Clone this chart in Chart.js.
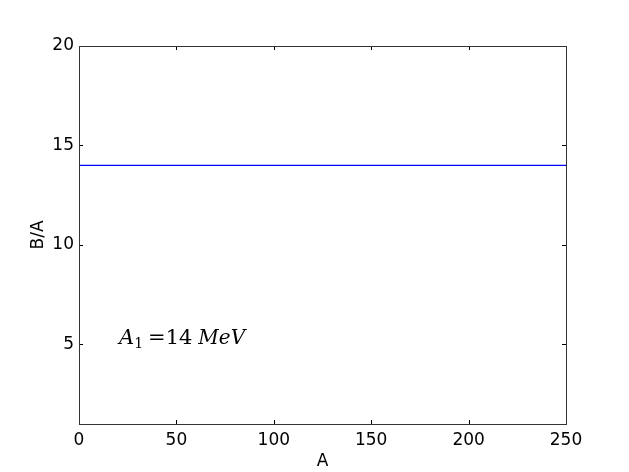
<!DOCTYPE html>
<html>
<head>
<meta charset="utf-8">
<script src="https://cdn.jsdelivr.net/npm/chart.js@4/dist/chart.umd.min.js"></script>
<style>
  html, body { margin: 0; padding: 0; background: #fff; }
  #wrap { width: 629px; height: 472px; }
</style>
</head>
<body>
<div id="wrap"><canvas id="c" width="629" height="472"></canvas></div>
<script>
// B/A vs A, constant volume term
const massNumbers = [0, 250];
const bindingPerNucleon = [14, 14];
const xTicks = [0, 50, 100, 150, 200, 250];
const yTicks = [5, 10, 15, 20];
const noteText = { x: 20, y: 5, main: "A", sub: "1", eq: "=14", unit: "MeV" };

const FONT = "'DejaVu Sans', sans-serif";
const AXIS = "#333";

// matplotlib classic: ticks pointing inwards on all four sides, plus the text note
const innerTicks = {
  id: "innerTicks",
  afterDraw(chart) {
    const { ctx, chartArea: a, scales } = chart;
    ctx.save();
    ctx.strokeStyle = "#000";
    ctx.lineWidth = 1;
    ctx.beginPath();
    xTicks.forEach(v => {
      const px = Math.round(scales.x.getPixelForValue(v)) + 0.5;
      ctx.moveTo(px, a.bottom); ctx.lineTo(px, a.bottom - 4);
      ctx.moveTo(px, a.top); ctx.lineTo(px, a.top + 4);
    });
    yTicks.forEach(v => {
      const py = Math.round(scales.y.getPixelForValue(v)) + 0.5;
      ctx.moveTo(a.left, py); ctx.lineTo(a.left + 4, py);
      ctx.moveTo(a.right, py); ctx.lineTo(a.right - 4, py);
    });
    ctx.stroke();
    ctx.strokeStyle = AXIS;
    ctx.lineWidth = 1;
    ctx.strokeRect(a.left + 0.5, a.top + 0.5, a.right - a.left, a.bottom - a.top);

    // annotation
    const tx = scales.x.getPixelForValue(noteText.x);
    const ty = scales.y.getPixelForValue(noteText.y);
    ctx.fillStyle = "#000";
    ctx.textBaseline = "alphabetic";
    ctx.font = "italic 21px 'DejaVu Serif', serif";
    ctx.fillText(noteText.main, tx + 1, ty);
    let w = ctx.measureText(noteText.main).width + 1;
    ctx.font = "14px 'DejaVu Serif', serif";
    ctx.fillText(noteText.sub, tx + w, ty + 4);
    w += ctx.measureText(noteText.sub).width + 5;
    ctx.font = "21px 'DejaVu Serif', serif";
    ctx.fillText(noteText.eq, tx + w, ty);
    w += ctx.measureText(noteText.eq).width + 6;
    ctx.font = "italic 20px 'DejaVu Serif', serif";
    ctx.fillText(noteText.unit, tx + w, ty);
    ctx.restore();
  }
};

new Chart(document.getElementById("c"), {
  type: "line",
  data: {
    labels: massNumbers,
    datasets: [{
      data: massNumbers.map((x, i) => ({ x, y: bindingPerNucleon[i] })),
      borderColor: "#0000ff",
      borderWidth: 1.2,
      pointRadius: 0,
      fill: false,
      tension: 0,
    }],
  },
  options: {
    responsive: false,
    animation: false,
    layout: { padding: { left: 0, top: 46, right: 63, bottom: 0 } },
    plugins: { legend: { display: false }, tooltip: { enabled: false } },
    scales: {
      x: {
        type: "linear",
        min: 0,
        max: 250,
        afterBuildTicks: s => { s.ticks = xTicks.map(v => ({ value: v })); },
        afterFit: s => { s.height = 48; },
        grid: { display: false, drawTicks: false },
        border: { display: false },
        ticks: { color: "#000", padding: 6, font: { family: FONT, size: 17 } },
        title: { display: true, text: "A", color: "#000", padding: 0, font: { family: FONT, size: 17 } },
      },
      y: {
        type: "linear",
        min: 1,
        max: 20,
        afterBuildTicks: s => { s.ticks = yTicks.map(v => ({ value: v })); },
        afterFit: s => { s.width = 79; },
        grid: { display: false, drawTicks: false },
        border: { display: false },
        ticks: { color: "#000", padding: 5, font: { family: FONT, size: 17 } },
        title: { display: true, text: "B/A", color: "#000", padding: { top: 28 }, font: { family: FONT, size: 17 } },
      },
    },
  },
  plugins: [innerTicks],
});
</script>
</body>
</html>
